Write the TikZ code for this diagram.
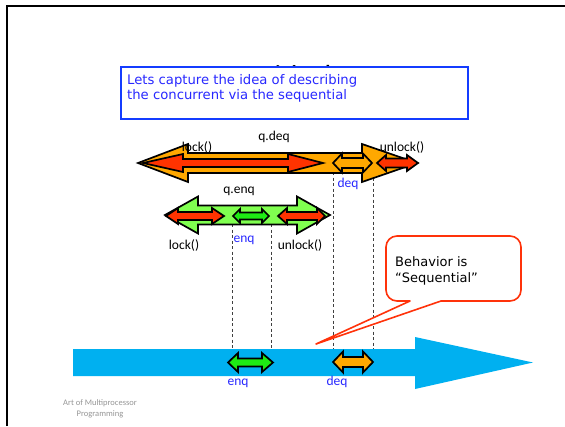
\documentclass[tikz,border=0pt]{standalone}
\usepackage{fontspec}
\setmainfont{Carlito}
\newfontfamily\notefont{DejaVu Sans}
\definecolor{arrowOrange}{RGB}{255,168,0}
\definecolor{arrowRed}{RGB}{255,51,0}
\definecolor{lightGreen}{RGB}{128,255,80}
\definecolor{brightGreen}{RGB}{30,235,20}
\definecolor{timeBlue}{RGB}{0,176,240}
\definecolor{labelBlue}{RGB}{40,40,255}
\definecolor{boxBlue}{RGB}{20,60,255}
\definecolor{calloutRed}{RGB}{255,50,10}
\definecolor{footGray}{RGB}{150,150,150}

% double-headed block arrow: #1 style, #2 left tip x, #3 right tip x, #4 axis y,
% #5 half shaft width, #6 half head width, #7 left head length, #8 right head length
\newcommand\blockarrow[8]{%
  \draw[#1] (#2,#4) -- (#2+#7,#4-#6) -- (#2+#7,#4-#5) -- (#3-#8,#4-#5)
    -- (#3-#8,#4-#6) -- (#3,#4) -- (#3-#8,#4+#6) -- (#3-#8,#4+#5)
    -- (#2+#7,#4+#5) -- (#2+#7,#4+#6) -- cycle;}

\tikzset{
  outlined/.style={draw=black, line width=1.7pt, line join=miter, fill=#1},
  opname/.style={font=\fontsize{13.5}{15}\selectfont, anchor=base, inner sep=0pt},
  evname/.style={opname, text=labelBlue},
  guide/.style={draw=black!75, line width=0.7pt, dash pattern=on 3pt off 2.5pt},
}

\begin{document}
\begin{tikzpicture}[x=1pt, y=-1pt]
\useasboundingbox (0,0) rectangle (565,426);
\fill[white] (0,0) rectangle (565,426);

% slide frame
\draw[line width=2.4pt] (7,426) -- (7,6) -- (565,6);

% slide title, mostly hidden under the note box
\node[font=\fontsize{29}{30}\selectfont, anchor=base] (title) at (286,85.2) {Intuitively};

% note box
\node[draw=boxBlue, line width=1.5pt, fill=white, minimum width=347pt, minimum height=52pt,
      anchor=north west, inner sep=0pt] (note) at (120,66) {};
\node[font=\notefont\fontsize{13.2}{15.5}\selectfont, text=labelBlue, align=left,
      anchor=base west, inner sep=0pt] (notetext) at (127,99.5)
  {Lets capture the idea of describing\\the concurrent via the sequential};

% dashed guides from the method calls down to the timeline
\draw[guide] (232,224) coordinate (ga) -- (232,356) coordinate (gb);
\draw[guide] (271,224) coordinate (gc) -- (271,356) coordinate (gd);
\draw[guide] (333,172) coordinate (ge) -- (333,356) coordinate (gf);
\draw[guide] (373,172) coordinate (gg) -- (373,356) coordinate (gh);

% q.deq call with its inner steps
\blockarrow{outlined=arrowOrange}{138}{417}{163}{10}{19}{50}{55}
\blockarrow{outlined=arrowRed}{143}{323}{163}{4}{9}{40}{35}
\blockarrow{outlined=arrowOrange}{333}{372}{163}{5}{9.5}{9}{9}
\blockarrow{outlined=arrowRed}{377}{418}{163}{4.5}{8}{9}{11}

% q.enq call with its inner steps
\blockarrow{outlined=lightGreen}{165}{330}{215}{9.5}{18.5}{33}{33}
\blockarrow{outlined=arrowRed}{166}{224}{216}{4}{8}{12}{12}
\blockarrow{outlined=brightGreen}{233}{269}{216}{3.5}{7}{7}{7}
\blockarrow{outlined=arrowRed}{278}{325}{216}{4}{8}{9}{8}

% timeline
\fill[timeBlue] (73,349) -- (415,349) -- (415,337) -- (533,362.5) -- (415,389)
  -- (415,376) -- (73,376) -- cycle;
\blockarrow{outlined=brightGreen}{228}{273}{362.5}{4}{9.5}{10}{11}
\blockarrow{outlined=arrowOrange}{333}{373}{362}{5}{10.5}{10}{10}

% labels
\node[opname] (qdeq) at (274,140) {q.deq};
\node[opname] (lock1) at (197,151) {lock()};
\node[opname] (unlock1) at (402,151) {unlock()};
\node[evname] (deq1) at (348,187) {deq};
\node[opname] (qenq) at (239,193) {q.enq};
\node[opname] (lock2) at (184,249) {lock()};
\node[evname] (enq1) at (244,242) {enq};
\node[opname] (unlock2) at (300,249) {unlock()};
\node[evname] (enq2) at (238,385) {enq};
\node[evname] (deq2) at (337,385) {deq};

% callout
\coordinate (tip) at (316,344);
\draw[calloutRed, line width=1.6pt, fill=white, line join=round]
  (410,301) -- (tip) -- (441,301)
  {[rounded corners=11pt] -- (521,301) -- (521,236) -- (386,236) -- (386,301)} -- cycle;
\node[font=\notefont\fontsize{13}{16.5}\selectfont, align=left, anchor=base west,
      inner sep=0pt] (callouttext) at (395,282.5) {Behavior is\\“Sequential”};

% footer
\node[font=\fontsize{8.5}{10.5}\selectfont, text=footGray, align=center, anchor=base,
      inner sep=0pt] (footer) at (100,416) {Art of Multiprocessor\\Programming};
\end{tikzpicture}
\end{document}
